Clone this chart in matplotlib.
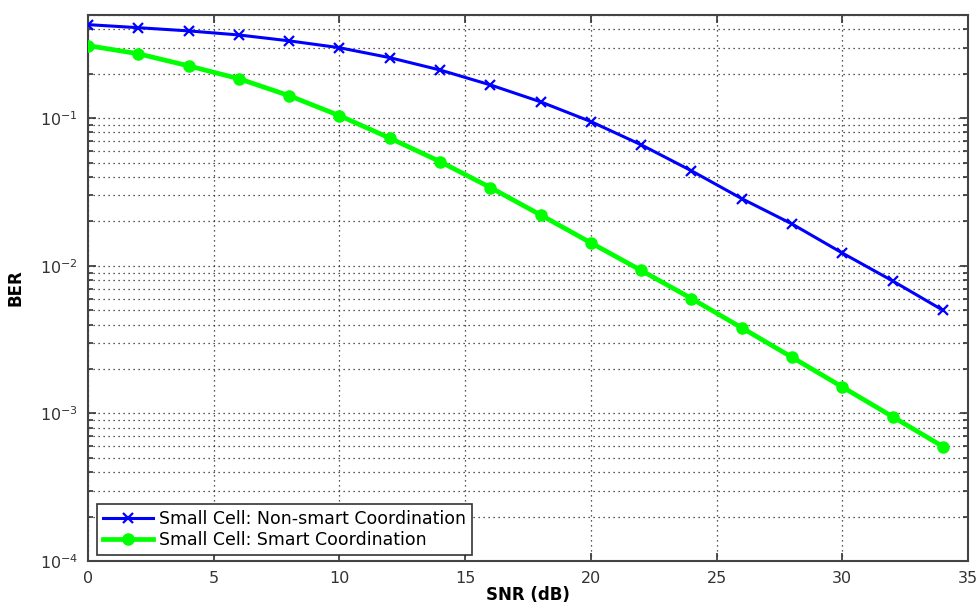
import matplotlib
matplotlib.use('Agg')
import matplotlib.pyplot as plt
import numpy as np

plt.rcParams['font.family'] = ['DejaVu Sans']
plt.rcParams['axes.unicode_minus'] = False

# SNR (dB)
snr = [0, 2, 4, 6, 8, 10, 12, 14, 16, 18, 20, 22, 24, 26, 28, 30, 32, 34]
# BER values
ber_non_smart = [0.43, 0.41, 0.39, 0.366, 0.334, 0.30, 0.257, 0.212, 0.168, 0.129,
                 0.0948, 0.066, 0.044, 0.0285, 0.0192, 0.0122, 0.0079, 0.0050]
ber_smart = [0.31, 0.273, 0.226, 0.185, 0.142, 0.104, 0.0733, 0.0508, 0.0339, 0.0221,
             0.0143, 0.0093, 0.0060, 0.0038, 0.0024, 0.00151, 0.00095, 0.000596]

label_1 = 'Small Cell: Non-smart Coordination'
label_2 = 'Small Cell: Smart Coordination'

fig = plt.figure(figsize=(9.8, 6.11), dpi=100)
ax = fig.add_axes([0.0898, 0.0818, 0.898, 0.8937])

ax.semilogy(snr, ber_non_smart, color='#0000ff', linewidth=2.2, marker='x',
            markersize=7, markeredgewidth=1.6, label=label_1, zorder=5)
ax.semilogy(snr, ber_smart, color='#00ff00', linewidth=3.4, marker='o',
            markersize=8, label=label_2, zorder=4)

ax.set_xlim(0, 35)
ax.set_ylim(1e-4, 0.5)
ax.set_xticks(np.arange(0, 36, 5))

# MATLAB 风格网格：稀疏点线
grid_style = dict(linestyle=(0, (1, 3)), color='#222222', linewidth=0.9)
ax.grid(True, which='major', axis='both', **grid_style)
ax.grid(True, which='minor', axis='y', **grid_style)

ax.tick_params(which='both', direction='in', top=True, right=True,
               colors='#333333', labelcolor='#333333', labelsize=11.5, pad=7)
ax.tick_params(which='major', length=6, width=1.2)
ax.tick_params(which='minor', length=3.5, width=1.2)
for spine in ax.spines.values():
    spine.set_color('#444444')
    spine.set_linewidth(1.5)

ax.set_xlabel('SNR (dB)', fontsize=12, fontweight='bold')
ax.set_ylabel('BER', fontsize=12, fontweight='bold')
ax.xaxis.set_label_coords(0.5, -0.046)
ax.yaxis.set_label_coords(-0.0716, 0.5)

leg = ax.legend(loc='lower left', bbox_to_anchor=(9 / 880, 6 / 546), borderaxespad=0,
                fontsize=12.5, fancybox=False, framealpha=1, edgecolor='#333333',
                borderpad=0.35, handlelength=2.9, handletextpad=0.3, labelspacing=0.15)
leg.get_frame().set_linewidth(1.2)

fig.savefig('out.png', dpi=100)
